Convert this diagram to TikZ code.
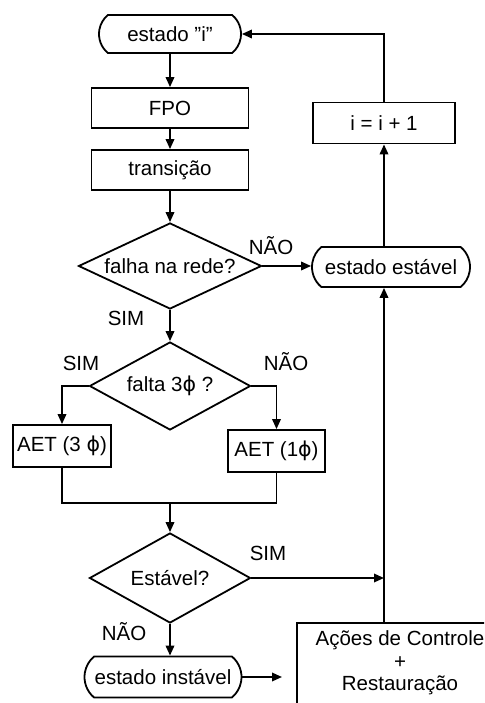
\documentclass[tikz,border=0pt]{standalone}
\usepackage{fontspec}
\setmainfont{Liberation Sans}
\newfontfamily\phifont{DejaVu Sans}
\usetikzlibrary{shapes.geometric,shapes.misc,arrows.meta}
\newcommand{\phisym}{{\phifont ϕ}}
\begin{document}
\begin{tikzpicture}[x=1pt,y=-1pt,
  font=\fontsize{20.5}{22.5}\selectfont,
  line width=1.8pt,
  flow/.style={-{Triangle[length=10pt,width=8.5pt]}},
  proc/.style={draw, rectangle, inner sep=0pt},
  term/.style={draw, rounded rectangle, rounded rectangle arc length=100, inner sep=0pt},
  decision/.style={draw, diamond, inner sep=0pt},
  tag/.style={inner sep=0pt}]
\useasboundingbox (0,0) rectangle (484,703);
\clip (0,0) rectangle (484,703);

% main column
\node[term, minimum width=142pt, minimum height=38pt] (start) at (170,34) {estado \char34i\char34};
\node[proc, minimum width=157pt, minimum height=40pt] (fpo) at (170,108) {FPO};
\node[proc, minimum width=157pt, minimum height=40pt] (trans) at (170,170) {transição};
\node[decision, minimum width=183pt, minimum height=86pt, aspect=2.1] (fault) at (170,266) {falha na rede?};
\node[decision, minimum width=161pt, minimum height=88pt, aspect=1.8] (three) at (170,386) {falta 3\phisym\ ?};
\node[proc, minimum width=98pt, minimum height=42pt] (aet3) at (62,446) {AET (3 \phisym)};
\node[proc, minimum width=97pt, minimum height=42pt] (aet1) at (276.5,451) {AET (1\phisym)};
\coordinate (merge) at (170,503);
\node[decision, minimum width=161pt, minimum height=90pt, aspect=1.8] (stab) at (170,578) {Estável?};
\node[term, minimum width=157pt, minimum height=41pt] (unstable) at (163,677) {estado instável};
\coordinate (unstableout) at (282,677);

% right column
\node[term, minimum width=158pt, minimum height=40pt] (stable) at (391,267) {estado estável};
\node[proc, minimum width=142pt, minimum height=41pt] (inc) at (384,123) {i = i + 1};
\node[proc, minimum width=206pt, minimum height=120pt, anchor=north] (actions) at (400,622) {};
\node[tag, align=center, anchor=north] (actionstext) at ([yshift=-8pt]actions.north) {Ações de Controle\\+\\Restauração};

% branch labels
\node[tag] (faultno) at (271,246) {NÃO};
\node[tag] (faultyes) at (126,318) {SIM};
\node[tag] (threeyes) at (81,363) {SIM};
\node[tag] (threeno) at (286,362) {NÃO};
\node[tag] (stabyes) at (268,553) {SIM};
\node[tag] (stabno) at (124,632) {NÃO};

% connectors
\draw[flow] (start) -- (fpo);
\draw[flow] (fpo) -- (trans);
\draw[flow] (trans) -- (fault);
\draw[flow] (fault.east) -- (fault.east -| stable.west);
\draw[flow] (fault.south) -- (three.north);
\draw[flow] (three.west) -| (aet3.north);
\draw[flow] (three.east) -| (aet1.north);
\draw (aet3.south) |- (merge) -| (aet1.south);
\draw[flow] (merge) -- (stab.north);
\draw[flow] (stab.east) -- (stab.east -| inc.south);
\draw[flow] (stab.south) -- (stab.south |- unstable.north);
\draw[flow] (unstable.east) -- (unstableout);
\draw[flow] (actions.north -| inc.south) -- (inc.south |- stable.south);
\draw[flow] (inc.south |- stable.north) -- (inc.south);
\draw[flow] (inc.north) |- (start.east);
\end{tikzpicture}
\end{document}
